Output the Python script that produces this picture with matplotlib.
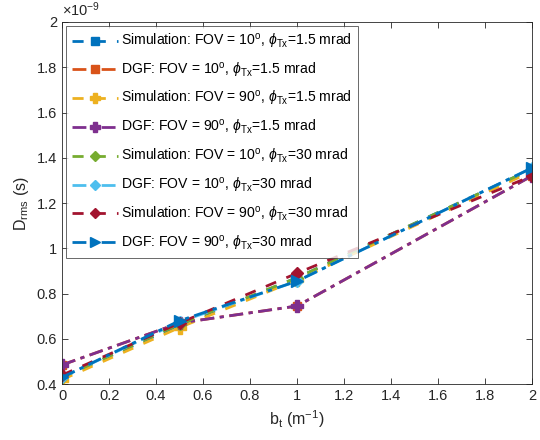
import matplotlib
matplotlib.use("Agg")
import matplotlib.pyplot as plt
from matplotlib.ticker import FuncFormatter

plt.rcParams['font.family'] = ['Liberation Sans', 'DejaVu Sans']
plt.rcParams['mathtext.fontset'] = 'custom'
plt.rcParams['mathtext.rm'] = 'Liberation Sans'
plt.rcParams['mathtext.it'] = 'Liberation Sans:italic'

bt = [0, 0.5, 1, 2]
sim_fov10_15 = [0.43e-9, 0.66e-9, 0.87e-9, 1.35e-9]
dgf_fov10_15 = [0.485e-9, 0.67e-9, 0.745e-9, 1.32e-9]
sim_fov90_15 = [0.42e-9, 0.65e-9, 0.86e-9, 1.34e-9]
dgf_fov90_15 = [0.485e-9, 0.67e-9, 0.745e-9, 1.32e-9]
sim_fov10_30 = [0.43e-9, 0.665e-9, 0.87e-9, 1.35e-9]
dgf_fov10_30 = [0.43e-9, 0.675e-9, 0.855e-9, 1.355e-9]
sim_fov90_30 = [0.44e-9, 0.67e-9, 0.89e-9, 1.32e-9]
dgf_fov90_30 = [0.43e-9, 0.68e-9, 0.855e-9, 1.355e-9]

labels = [
    r"Simulation: FOV = 10$^\mathrm{o}$, $\phi_\mathrm{Tx}$=1.5 mrad",
    r"DGF: FOV = 10$^\mathrm{o}$, $\phi_\mathrm{Tx}$=1.5 mrad",
    r"Simulation: FOV = 90$^\mathrm{o}$, $\phi_\mathrm{Tx}$=1.5 mrad",
    r"DGF: FOV = 90$^\mathrm{o}$, $\phi_\mathrm{Tx}$=1.5 mrad",
    r"Simulation: FOV = 10$^\mathrm{o}$, $\phi_\mathrm{Tx}$=30 mrad",
    r"DGF: FOV = 10$^\mathrm{o}$, $\phi_\mathrm{Tx}$=30 mrad",
    r"Simulation: FOV = 90$^\mathrm{o}$, $\phi_\mathrm{Tx}$=30 mrad",
    r"DGF: FOV = 90$^\mathrm{o}$, $\phi_\mathrm{Tx}$=30 mrad",
]
series = [sim_fov10_15, dgf_fov10_15, sim_fov90_15, dgf_fov90_15,
          sim_fov10_30, dgf_fov10_30, sim_fov90_30, dgf_fov90_30]
colors = ['#0072BD', '#D95319', '#EDB120', '#7E2F8E', '#77AC30', '#4DBEEE', '#A2142F', '#0072BD']
markers = ['s', 's', 'P', 'P', 'D', 'D', 'D', '>']
styles = [(0, (4, 4)), (0, (5, 2, 1.5, 2)), (0, (4, 4)), (0, (5, 2, 1.5, 2)),
          (0, (4, 4)), (0, (5, 2, 1.5, 2)), (0, (4, 4)), (0, (5, 2, 1.5, 2))]
msizes = [6, 6, 8, 8, 6, 6, 6, 8]

fig = plt.figure(figsize=(5.4, 4.4), dpi=100)
ax = fig.add_axes([0.115, 0.127, 0.87, 0.823])
for y, lab, c, m, ls, ms in zip(series, labels, colors, markers, styles, msizes):
    ax.plot(bt, y, color=c, marker=m, linestyle=ls, linewidth=2, markersize=ms,
            markerfacecolor=c, markeredgecolor=c, label=lab)

ax.set_xlim(0, 2)
ax.set_ylim(0.4e-9, 2e-9)
ax.set_xticks([0, 0.2, 0.4, 0.6, 0.8, 1, 1.2, 1.4, 1.6, 1.8, 2])
ax.set_yticks([0.4e-9, 0.6e-9, 0.8e-9, 1e-9, 1.2e-9, 1.4e-9, 1.6e-9, 1.8e-9, 2e-9])
ax.xaxis.set_major_formatter(FuncFormatter(lambda v, p: f"{v:g}"))
ax.yaxis.set_major_formatter(FuncFormatter(lambda v, p: f"{v*1e9:.1f}".rstrip('0').rstrip('.')))
ax.tick_params(direction='in', top=True, right=True, labelsize=10.5, colors='#262626',
               length=4, width=0.6)
for s in ax.spines.values():
    s.set_color('#262626')
    s.set_linewidth(0.6)
ax.text(0.0, 1.008, r"$\times$10$^{-9}$", transform=ax.transAxes, fontsize=10.5,
        color='#262626', ha='left', va='bottom')
ax.set_xlabel(r"b$_\mathrm{t}$ (m$^{-1}$)", fontsize=11.5, color='#262626')
ax.set_ylabel(r"D$_\mathrm{rms}$ (s)", fontsize=11.5, color='#262626')

leg = ax.legend(loc='upper left', fontsize=10.1, frameon=True, fancybox=False,
                edgecolor='#262626', handlelength=3.3, handletextpad=0.2,
                labelspacing=0.7, borderaxespad=0.3, borderpad=0.4,
                markerscale=0.85)
leg.get_frame().set_linewidth(0.6)

fig.savefig("out.png", dpi=100)
